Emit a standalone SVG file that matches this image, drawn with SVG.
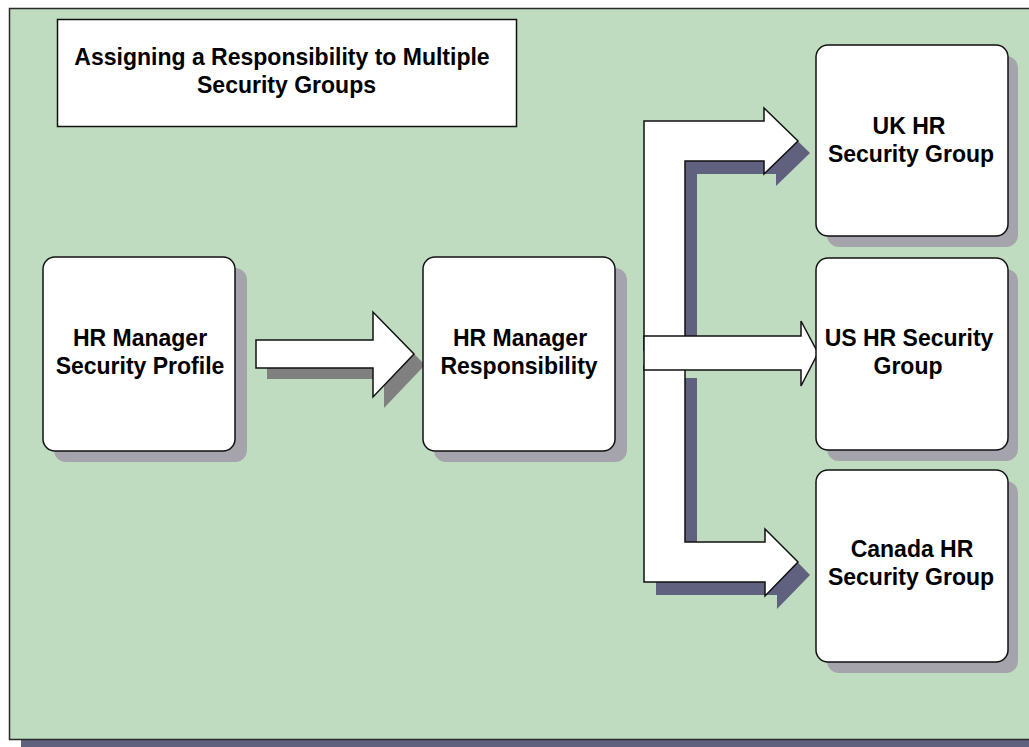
<svg xmlns="http://www.w3.org/2000/svg" width="1029" height="747" viewBox="0 0 1029 747">
  <defs>
    <style>
      .frame { fill: #c0dcc0; stroke: #2a2a2a; stroke-width: 1.5; }
      .frameshadow { fill: #60607f; }
      .box { fill: #ffffff; stroke: #111111; stroke-width: 1.5; }
      .nodeshadow { fill: #a5a3ab; }
      .arrow { fill: #ffffff; stroke: #111111; stroke-width: 1.5; stroke-linejoin: miter; }
      .grayshadow { fill: #808080; }
      .purpleshadow { fill: #60607f; }
      text { font-family: "Liberation Sans", Arial, sans-serif; font-weight: bold; font-size: 23px; fill: #000000; text-anchor: middle; }
    </style>
  </defs>

  <g id="background">
    <rect class="frameshadow" x="21" y="20" width="1030" height="732"/>
    <rect class="frame" x="9.5" y="8.5" width="1030" height="731"/>
  </g>

  <g id="connectors">
    <!-- straight arrow: profile -> responsibility -->
    <polygon class="grayshadow" points="267,351 384,351 384,323 425,365 384,408 384,379 267,379"/>
    <polygon class="arrow" points="256,340 373,340 373,312 414,354 373,397 373,368 256,368"/>

    <!-- fork arrow shadows -->
    <polygon class="purpleshadow" points="656,362 656,133 776,133 776,120 810,153 776,186 776,174 697,174 697,362"/>
    <polygon class="purpleshadow" points="656,378 656,595 777,595 777,609 810,575 777,541 777,554 697,554 697,378"/>

    <!-- fork: top branch to UK -->
    <polygon class="arrow" points="644,350 644,121 764,121 764,108 798,141 764,174 764,161 685,161 685,350"/>
    <!-- fork: bottom branch to Canada -->
    <polygon class="arrow" points="644,366 644,582 765,582 765,596 798,562 765,529 765,542 685,542 685,366"/>
    <!-- middle branch to US -->
    <polygon class="arrow" points="644,336 801,336 801,321 818,353 801,386 801,370 644,370"/>
  </g>

  <g id="title">
    <rect class="box" x="57.5" y="19.5" width="459" height="107"/>
    <text x="282" y="65">Assigning a Responsibility to Multiple</text>
    <text x="286.5" y="93">Security Groups</text>
  </g>

  <g id="hr-manager-security-profile">
    <rect class="nodeshadow" x="54" y="268" width="193" height="194" rx="12" ry="12"/>
    <rect class="box" x="43" y="257" width="192" height="194" rx="12" ry="12"/>
    <text x="140" y="346">HR Manager</text>
    <text x="140" y="374">Security Profile</text>
  </g>

  <g id="hr-manager-responsibility">
    <rect class="nodeshadow" x="434" y="268" width="193" height="194" rx="12" ry="12"/>
    <rect class="box" x="423" y="257" width="192" height="194" rx="12" ry="12"/>
    <text x="520" y="346">HR Manager</text>
    <text x="519" y="374">Responsibility</text>
  </g>

  <g id="uk-hr-security-group">
    <rect class="nodeshadow" x="827" y="56" width="191" height="191" rx="12" ry="12"/>
    <rect class="box" x="816" y="45" width="192" height="191" rx="12" ry="12"/>
    <text x="909" y="134">UK HR</text>
    <text x="911" y="162">Security Group</text>
  </g>

  <g id="us-hr-security-group">
    <rect class="nodeshadow" x="827" y="269" width="191" height="192" rx="12" ry="12"/>
    <rect class="box" x="816" y="258" width="192" height="192" rx="12" ry="12"/>
    <text x="909" y="346">US HR Security</text>
    <text x="908" y="374">Group</text>
  </g>

  <g id="canada-hr-security-group">
    <rect class="nodeshadow" x="827" y="481" width="191" height="192" rx="12" ry="12"/>
    <rect class="box" x="816" y="470" width="192" height="192" rx="12" ry="12"/>
    <text x="912" y="557">Canada HR</text>
    <text x="911" y="585">Security Group</text>
  </g>
</svg>
